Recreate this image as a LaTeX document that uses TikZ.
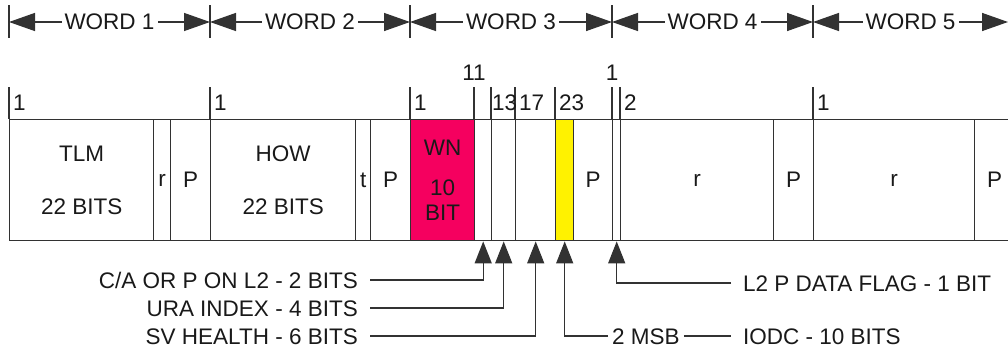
\documentclass[tikz,border=0pt]{standalone}
\usepackage{fontspec}
\setmainfont{Liberation Sans}
\usetikzlibrary{arrows.meta}
\definecolor{wnpink}{RGB}{245,0,95}
\definecolor{linegray}{RGB}{50,50,50}

\begin{document}
\begin{tikzpicture}[x=1pt,y=-1pt,
  every node/.style={font=\fontsize{22.5}{25}\selectfont, text=black!90},
  field/.style={draw=linegray, line width=1.4pt, anchor=north west, inner sep=0pt,
    minimum height=121pt, minimum width=#1, align=center},
  tick/.style={draw=linegray, line width=1.4pt},
  bitno/.style={anchor=west, inner sep=4pt},
  wordspan/.style={line width=1.4pt, draw=linegray,
    {Triangle[length=26pt,width=18pt]}-{Triangle[length=26pt,width=18pt]}},
  wordlabel/.style={fill=white, inner sep=3pt},
  note/.style={inner xsep=12pt, inner ysep=0pt, text height=16pt, text depth=0pt},
  pointer/.style={line width=1.4pt, draw=linegray, -{Triangle[length=22pt,width=17pt]}},
  lead/.style={line width=1.4pt, draw=linegray}]
  \useasboundingbox (0,0) rectangle (1008,351);

  % word header
  \foreach \x in {9,210,410,612,813} \draw[tick] (\x,5) -- (\x,38);
  \coordinate (w0) at (9,22);
  \coordinate (w1) at (210,22);
  \coordinate (w2) at (410,22);
  \coordinate (w3) at (612,22);
  \coordinate (w4) at (813,22);
  \coordinate (w5) at (1008,22);
  \draw[wordspan] (w0) -- node[wordlabel]{WORD 1} (w1);
  \draw[wordspan] (w1) -- node[wordlabel]{WORD 2} (w2);
  \draw[wordspan] (w2) -- node[wordlabel]{WORD 3} (w3);
  \draw[wordspan] (w3) -- node[wordlabel]{WORD 4} (w4);
  \draw[wordspan] (w4) -- node[wordlabel]{WORD 5} (w5);

  % bit fields
  \node[field=144pt] (tlm) at (9,119) {TLM\\[28pt]22 BITS};
  \node[field=17pt] (r1) at (153,119) {r};
  \node[field=40pt] (p1) at (170,119) {P};
  \node[field=145pt] (how) at (210,119) {HOW\\[28pt]22 BITS};
  \node[field=15pt] (t) at (355,119) {t};
  \node[field=40pt] (p2) at (370,119) {P};
  \node[field=64pt, fill=wnpink] (wn) at (410,119) {WN\\[15pt]10\\BIT};
  \node[field=17pt] (ca) at (474,119) {};
  \node[field=24pt] (ura) at (491,119) {};
  \node[field=40pt] (sv) at (515,119) {};
  \node[field=18pt, fill=yellow] (iodc) at (555,119) {};
  \node[field=39pt] (p3) at (573,119) {P};
  \node[field=8pt] (flag) at (612,119) {};
  \node[field=153pt] (r4) at (620,119) {r};
  \node[field=40pt] (p4) at (773,119) {P};
  \node[field=161pt] (r5) at (813,119) {r};
  \node[field=40pt] (p5) at (974,119) {P};

  % bit numbers
  \foreach \x in {9,210,410,474,491,515,555,612,620,813} \draw[tick] (\x,87) -- (\x,119);
  \node[bitno] at (9,103) {1};
  \node[bitno] at (210,103) {1};
  \node[bitno] at (410,103) {1};
  \node at (474,73) {11};
  \node[bitno, inner sep=1pt] at (491,103) {13};
  \node[bitno] at (515,103) {17};
  \node[bitno] at (555,103) {23};
  \node at (612,73) {1};
  \node[bitno] at (620,103) {2};
  \node[bitno] at (813,103) {1};

  % pointers
  \node[note, anchor=east] (calbl) at (370,280) {C/A OR P ON L2 - 2 BITS};
  \node[note, anchor=east] (uralbl) at (370,308) {URA INDEX - 4 BITS};
  \node[note, anchor=east] (svlbl) at (370,336) {SV HEALTH - 6 BITS};
  \node[note, anchor=west, inner xsep=4pt] (msb) at (608,336) {2 MSB};
  \node[note, anchor=west] (iodclbl) at (731,336) {IODC - 10 BITS};
  \node[note, anchor=west] (flaglbl) at (731,283) {L2 P DATA FLAG - 1 BIT};
  \draw[pointer] (calbl.east) -| (ca.south);
  \draw[pointer] (uralbl.east) -| (ura.south);
  \draw[pointer] (svlbl.east) -| (sv.south);
  \draw[pointer] (msb.west) -| (iodc.south);
  \draw[lead] (msb.east) -- (iodclbl.west);
  \draw[pointer] (flaglbl.west) -| (flag.south);
\end{tikzpicture}
\end{document}
